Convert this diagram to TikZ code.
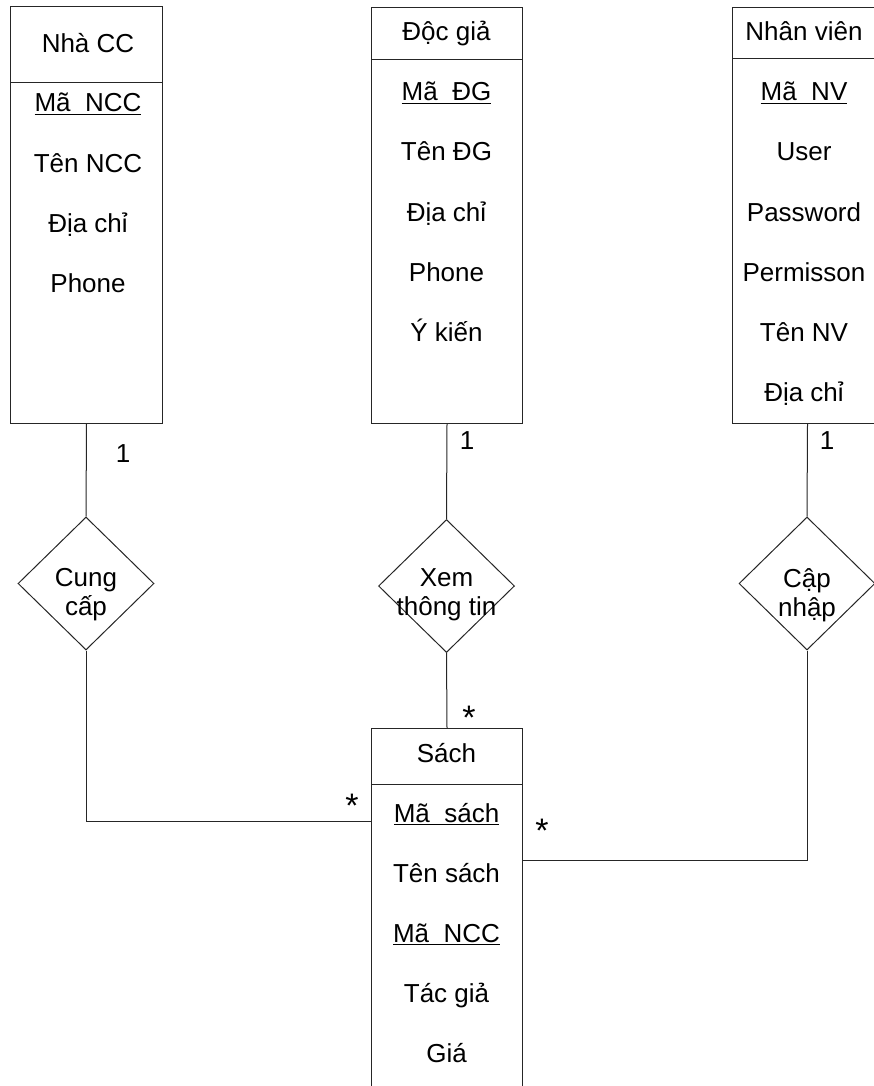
\documentclass[tikz,border=0pt]{standalone}
\usepackage{fontspec}
\setmainfont{Liberation Sans}
\usetikzlibrary{shapes.geometric}
\newcommand\ulx[1]{\setbox0\hbox{#1}\rlap{\rule[-3pt]{\wd0}{1pt}}\box0}
\begin{document}
\begin{tikzpicture}[x=1pt,y=-1pt,
  line width=1pt,
  ent/.style={draw=black!85, rectangle, inner sep=0pt, anchor=north west},
  rel/.style={draw=black!85, diamond, inner sep=0pt, minimum width=136pt, minimum height=133pt},
  attr/.style={inner sep=0pt, anchor=base, font=\fontsize{26pt}{29pt}\selectfont},
  rtext/.style={inner sep=0pt, align=center, font=\fontsize{26pt}{29pt}\selectfont},
  mult/.style={inner sep=0pt, font=\fontsize{26pt}{29pt}\selectfont},
  star/.style={inner sep=0pt, anchor=north, font=\fontsize{34pt}{36pt}\selectfont},
  conn/.style={draw=black!85, line width=1pt}]
\useasboundingbox (0,0) rectangle (874,1086);
\clip (0,0) rectangle (874,1086);

% entity boxes
\node[ent, minimum width=152pt, minimum height=417pt] (ncc) at (10,6) {};
\node[ent, minimum width=151pt, minimum height=416pt] (dg) at (371,7) {};
\node[ent, minimum width=150pt, minimum height=416pt] (nv) at (732,7) {};
\node[ent, minimum width=151pt, minimum height=420pt] (sach) at (371,728) {};

% header separators
\draw[conn] ([yshift=-77pt]ncc.north west) -- ([yshift=-77pt]ncc.north east);
\draw[conn] ([yshift=-52.5pt]dg.north west) -- ([yshift=-52.5pt]dg.north east);
\draw[conn] ([yshift=-52pt]nv.north west) -- ([yshift=-52pt]nv.north east);
\draw[conn] ([yshift=-56pt]sach.north west) -- ([yshift=-56pt]sach.north east);

% Nha CC
\node[attr] (ncch) at (88,53) {Nhà CC};
\node[attr] (ncc1) at (88,112) {\ulx{Mã\hspace{0.556em}NCC}};
\node[attr] (ncc2) at (88,172) {Tên NCC};
\node[attr] (ncc3) at (88,232) {Địa chỉ};
\node[attr] (ncc4) at (88,292) {Phone};

% Doc gia
\node[attr] (dgh) at (446.5,41) {Độc giả};
\node[attr] (dg1) at (446.5,101) {\ulx{Mã\hspace{0.556em}ĐG}};
\node[attr] (dg2) at (446.5,161) {Tên ĐG};
\node[attr] (dg3) at (446.5,221) {Địa chỉ};
\node[attr] (dg4) at (446.5,281) {Phone};
\node[attr] (dg5) at (446.5,341) {Ý kiến};

% Nhan vien
\node[attr] (nvh) at (804,41) {Nhân viên};
\node[attr] (nv1) at (804,101) {\ulx{Mã\hspace{0.556em}NV}};
\node[attr] (nv2) at (804,161) {User};
\node[attr] (nv3) at (804,221) {Password};
\node[attr] (nv4) at (804,281) {Permisson};
\node[attr] (nv5) at (804,341) {Tên NV};
\node[attr] (nv6) at (804,401) {Địa chỉ};

% Sach
\node[attr] (sh) at (446.5,762) {Sách};
\node[attr] (s1) at (446.5,822) {\ulx{Mã\hspace{0.556em}sách}};
\node[attr] (s2) at (446.5,882) {Tên sách};
\node[attr] (s3) at (446.5,942) {\ulx{Mã\hspace{0.556em}NCC}};
\node[attr] (s4) at (446.5,1002) {Tác giả};
\node[attr] (s5) at (446.5,1062) {Giá};

% relationships
\node[rel] (cc) at (86,583.5) {};
\node[rel] (xem) at (446.5,586) {};
\node[rel] (cn) at (807,583.5) {};
\node[rtext] (cctxt) at (86,594.5) {Cung\\cấp};
\node[rtext] (xemtxt) at (446.5,594.5) {Xem\\thông tin};
\node[rtext] (cntxt) at (807,595.5) {Cập\\nhập};

% connectors
\draw[conn] (ncc.south) -- (cc.north);
\draw[conn] (cc.south) |- ([yshift=-93pt]sach.north west);
\draw[conn] (dg.south) -- (xem.north);
\draw[conn] (xem.south) -- (sach.north);
\draw[conn] (nv.south) -- (cn.north);
\draw[conn] (cn.south) |- ([yshift=-132pt]sach.north east);

% multiplicities
\node[mult] (m1) at (123,454) {1};
\node[mult] (m2) at (467,441) {1};
\node[mult] (m3) at (827,441) {1};
\node[star] (s1m) at (352,794) {*};
\node[star] (s2m) at (469,706) {*};
\node[star] (s3m) at (542,819) {*};
\end{tikzpicture}
\end{document}
